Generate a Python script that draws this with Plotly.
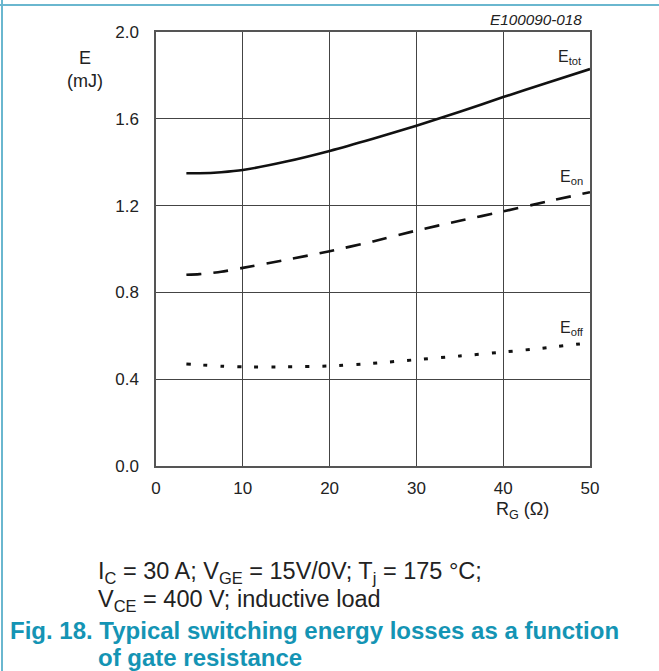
import plotly.graph_objects as go

rg = [3.5, 5, 7.5, 10, 15, 20, 25, 30, 35, 40, 45, 50]
e_tot = [1.349, 1.349, 1.354, 1.364, 1.403, 1.452, 1.508, 1.568, 1.632, 1.700, 1.765, 1.829]
e_on = [0.881, 0.884, 0.895, 0.913, 0.950, 0.990, 1.035, 1.085, 1.130, 1.173, 1.218, 1.262]
e_off = [0.470, 0.466, 0.460, 0.457, 0.457, 0.461, 0.473, 0.490, 0.507, 0.525, 0.545, 0.568]

x_ticks = [0, 10, 20, 30, 40, 50]
y_ticks = [0.0, 0.4, 0.8, 1.2, 1.6, 2.0]
y_tick_text = ["0.0", "0.4", "0.8", "1.2", "1.6", "2.0"]

FONT = "Liberation Sans, Arial, sans-serif"
BLUE = "#1494b4"
BORDER = "#6ab7cf"

fig = go.Figure()
fig.add_trace(go.Scatter(x=rg, y=e_tot, mode="lines", line=dict(color="#111", width=2.6, shape="spline", smoothing=0.6)))
fig.add_trace(go.Scatter(x=rg, y=e_on, mode="lines", line=dict(color="#111", width=2.6, dash="15px,12px", shape="spline", smoothing=0.6)))
fig.add_trace(go.Scatter(x=rg, y=e_off, mode="lines", line=dict(color="#111", width=3, dash="4px,13px", shape="spline", smoothing=0.6)))

fig.update_layout(
    width=659, height=671,
    margin=dict(l=156, r=69, t=32, b=205),
    paper_bgcolor="white", plot_bgcolor="white",
    showlegend=False,
    font=dict(family=FONT, size=16, color="#222"),
    xaxis=dict(range=[0, 50], tickvals=x_ticks, showgrid=True, gridcolor="#444", gridwidth=1,
               showline=True, linecolor="#555", linewidth=1.5, mirror=True, ticks="",
               zeroline=False, tickfont=dict(size=17, family=FONT, color="#222"), ticklabelstandoff=6),
    yaxis=dict(range=[0, 2.0], tickvals=y_ticks, ticktext=y_tick_text, showgrid=True, gridcolor="#444", gridwidth=1,
               showline=True, linecolor="#555", linewidth=1.5, mirror=True, ticks="",
               zeroline=False, tickfont=dict(size=17, family=FONT, color="#222"), ticklabelstandoff=12),
)

W, H = 659, 671
ann = []
def P(text, x, y, size=16, xanchor="left", color="#222"):
    ann.append(dict(text=text, x=(x - 156) / (W - 156 - 69), y=1 - (y - 32) / (H - 32 - 205),
                    xref="paper", yref="paper", xanchor=xanchor, yanchor="middle", showarrow=False,
                    font=dict(family=FONT, size=size, color=color)))

P("E", 85, 58, 18, "center")
P("(mJ)", 85, 81, 18, "center")
P("<i>E100090-018</i>", 584, 20, 15.3, "right")
P("E<sub>tot</sub>", 556, 57, 16)
P("E<sub>on</sub>", 558, 177, 16)
P("E<sub>off</sub>", 558, 328, 16)
P("R<sub>G</sub> (Ω)", 494, 510, 18)
P("I<sub>C</sub> = 30 A; V<sub>GE</sub> = 15V/0V; T<sub>j</sub> = 175 °C;", 96, 572, 23.5)
P("V<sub>CE</sub> = 400 V; inductive load", 96, 600, 23.5)
P("<b>Fig. 18. Typical switching energy losses as a function</b>", 8, 630, 24, color=BLUE)
P("<b>of gate resistance</b>", 96, 657, 24, color=BLUE)
fig.update_layout(annotations=ann)

# page border lines
fig.add_shape(type="line", xref="paper", yref="paper",
              x0=(2 - 156) / (W - 225), x1=(2 - 156) / (W - 225),
              y0=1 - (0 - 32) / (H - 237), y1=1 - (H - 32) / (H - 237),
              line=dict(color=BORDER, width=2))
fig.add_shape(type="line", xref="paper", yref="paper",
              x0=(0 - 156) / (W - 225), x1=(W - 156) / (W - 225),
              y0=1 - (5 - 32) / (H - 237), y1=1 - (5 - 32) / (H - 237),
              line=dict(color=BORDER, width=2))

fig.write_html("out.html", config={"displayModeBar": False},
               post_script="document.body.style.margin='0';document.body.style.overflow='hidden';")
